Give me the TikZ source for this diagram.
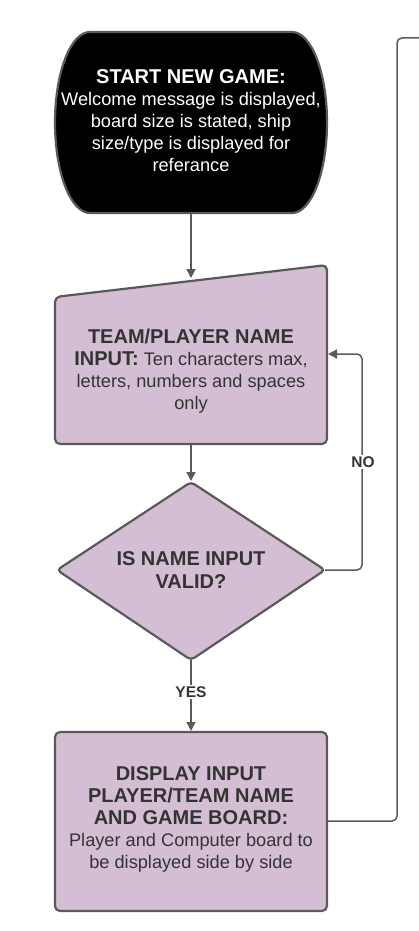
\documentclass[tikz,border=0pt]{standalone}
\usepackage{fontspec}
\setmainfont{Liberation Sans}
\usetikzlibrary{arrows.meta}
\definecolor{edge}{HTML}{5A5A5A}
\definecolor{lilac}{HTML}{D3BED3}
\definecolor{txt}{HTML}{333333}
\newcommand{\hd}[1]{{\fontsize{20}{23.5}\selectfont\bfseries #1}}
\begin{document}
\begin{tikzpicture}[x=1pt,y=1pt,
  shapeline/.style={draw=edge,line width=2.2pt,line join=round},
  conn/.style={draw=edge,line width=1.5pt,rounded corners=5pt,-{Triangle[length=9pt,width=9pt]}},
  plainconn/.style={draw=edge,line width=1.5pt,rounded corners=5pt},
  lbl/.style={fill=white,text=txt,font=\fontsize{15.5}{17}\selectfont\bfseries,inner sep=2pt},
  body/.style={align=center,text=txt,font=\fontsize{18.2}{22}\selectfont}]
\useasboundingbox (0,0) rectangle (418,-931);
% start terminator
\fill[black] (90,-32) -- (292,-32) arc[start angle=90,end angle=-90,x radius=35,y radius=90.5] -- (90,-213) arc[start angle=270,end angle=90,x radius=35,y radius=90.5] -- cycle;
\draw[shapeline] (90,-32) -- (292,-32) arc[start angle=90,end angle=-90,x radius=35,y radius=90.5] -- (90,-213) arc[start angle=270,end angle=90,x radius=35,y radius=90.5] -- cycle;
\node[body,text=white] (start) at (191,-121) {\hd{START NEW GAME:}\\Welcome message is displayed,\\board size is stated, ship\\size/type is displayed for\\referance};
\coordinate (startS) at (191,-213);
% input trapezoid
\draw[shapeline,fill=lilac,rounded corners=5pt] (55,-297) -- (327,-265) -- (327,-444) -- (55,-444) -- cycle;
\node[body] (input) at (191,-371) {\hd{TEAM/PLAYER NAME}\\\hd{INPUT:} Ten characters max,\\letters, numbers and spaces\\only};
\coordinate (inputN) at (191,-278);
\coordinate (inputS) at (191,-444);
\coordinate (inputE) at (328,-354);
% decision diamond
\draw[shapeline,fill=lilac,rounded corners=4pt] (191,-482) -- (325,-570) -- (191,-660) -- (57,-570) -- cycle;
\node[body,font=\fontsize{20}{23}\selectfont\bfseries] (valid) at (191,-570) {IS NAME INPUT\\VALID?};
\coordinate (validN) at (191,-481);
\coordinate (validE) at (325,-570);
\coordinate (validS) at (191,-660);
% display box
\draw[shapeline,fill=lilac,rounded corners=5pt] (55,-732) rectangle (327,-911);
\node[body] (disp) at (191,-819) {\hd{DISPLAY INPUT}\\\hd{PLAYER/TEAM NAME}\\\hd{AND GAME BOARD:}\\Player and Computer board to\\be displayed side by side};
\coordinate (dispN) at (191,-731);
\coordinate (dispE) at (327,-821);
\coordinate (topend) at (420,-38);
% connectors
\draw[conn] (startS) -- (inputN);
\draw[conn] (inputS) -- (validN);
\draw[conn] (validE) -- (362,-570) -- (362,-354) -- (inputE);
\node[lbl] (no) at (363,-462) {NO};
\draw[conn] (validS) -- (dispN);
\node[lbl] (yes) at (191,-692) {YES};
\draw[plainconn] (dispE) -- (397,-821) -- (397,-38) -- (topend);
\end{tikzpicture}
\end{document}
